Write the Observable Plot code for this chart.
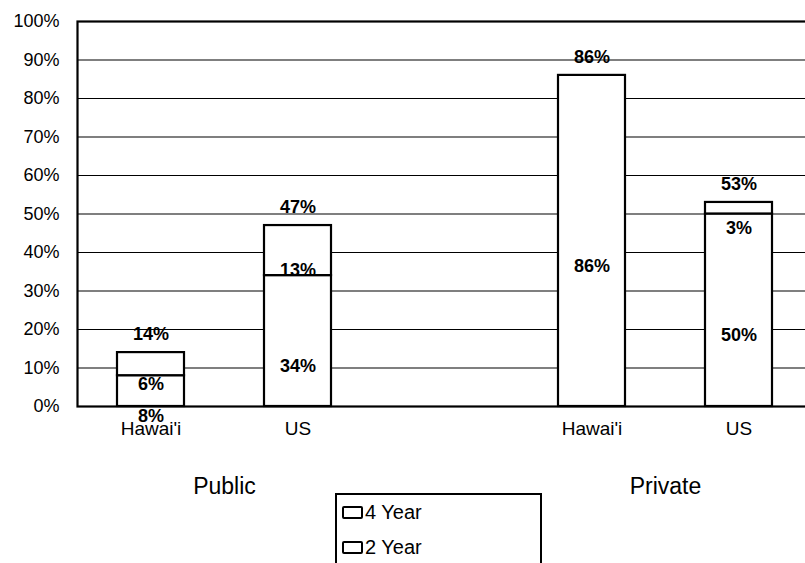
<!DOCTYPE html>
<html><head><meta charset="utf-8">
<script src="https://cdn.jsdelivr.net/npm/d3@7"></script>
<script src="https://cdn.jsdelivr.net/npm/@observablehq/plot@0.6"></script>
<style>
html,body{margin:0;padding:0;background:#fff;overflow:hidden;}
#wrap{position:relative;width:805px;height:563px;overflow:hidden;font-family:"Liberation Sans",Arial,sans-serif;}
#wrap svg{max-width:none !important;width:812px;height:563px;display:block;}
g[aria-label="x-axis tick label"] text{font-size:19px;}
#legend{position:absolute;left:335px;top:493px;width:203px;height:100px;border:2px solid #000;background:#fff;}
.item{display:flex;align-items:center;height:35px;font-size:20px;padding-left:5px;color:#000;}
.sw{width:17px;height:9px;border:2px solid #000;border-radius:2px;margin-right:2px;background:#fff;}
</style></head>
<body><div id="wrap"></div>
<script>
// ---- data ----
const groups = ["Public", "Public", "Private", "Private"];
const schools = ["Hawai'i", "US", "Hawai'i", "US"];
const seriesNames = ["4 Year", "2 Year"];
const fourYear = [8, 34, 86, 50];
const twoYear = [6, 13, 0, 3];
const yTicks = [0, 10, 20, 30, 40, 50, 60, 70, 80, 90, 100];

// ---- build table ----
const catKey = i => groups[i] + "|" + schools[i];
const domain = [catKey(0), catKey(1), "gap", catKey(2), catKey(3)];
const seriesValues = [fourYear, twoYear];
const rows = [];
const totals = [];
schools.forEach((s, i) => {
  let acc = 0;
  seriesValues.forEach((vals, k) => {
    const v = vals[i];
    rows.push({cat: catKey(i), series: seriesNames[k], k, value: v, y1: acc, y2: acc + v, mid: acc + v / 2});
    acc += v;
  });
  totals.push({cat: catKey(i), total: acc});
});
const segs = rows.filter(d => d.value > 0);
const groupLabels = [...new Set(groups)].map(g => ({group: g, first: catKey(groups.indexOf(g))}));

const W = 812, H = 563, ML = 77, MT = 21, MB = 157;
const step = (W - ML) / domain.length;

const chart = Plot.plot({
  width: W, height: H,
  marginLeft: ML, marginRight: 0, marginTop: MT, marginBottom: MB,
  style: {fontFamily: "'Liberation Sans', Arial, sans-serif", fontSize: "18px", color: "#000", background: "#fff"},
  x: {domain, padding: 0, label: null, tickSize: 0, tickPadding: 15,
      tickFormat: d => d === "gap" ? "" : d.split("|")[1]},
  y: {domain: [0, 100], ticks: yTicks, tickFormat: d => d + "%", label: null, tickSize: 0, tickPadding: 18},
  marks: [
    Plot.ruleY(yTicks.filter(t => t > 0 && t < 100), {stroke: "#000", strokeWidth: 1.2}),
    Plot.barY(segs, {x: "cat", y1: "y1", y2: "y2", fill: "#fff", stroke: "#000", strokeWidth: 2.2, insetLeft: 40, insetRight: 40}),
    Plot.frame({stroke: "#000", strokeWidth: 2.2}),
    Plot.text(segs, {x: "cat", y: "mid", text: d => d.value + "%", fontWeight: "bold", fontSize: 18,
      filter: d => d.k === 0, dy: 25}),
    Plot.text(segs, {x: "cat", y: "mid", text: d => d.value + "%", fontWeight: "bold", fontSize: 18,
      filter: d => d.k === 1, dy: 20}),
    Plot.text(totals, {x: "cat", y: "total", text: d => d.total + "%", fontWeight: "bold", fontSize: 18, dy: -18}),
    Plot.text(groupLabels, {x: "first", text: "group", dx: step / 2, frameAnchor: "bottom", dy: 87, fontSize: 23})
  ]
});
const wrap = document.getElementById("wrap");
wrap.appendChild(chart);

const legend = document.createElement("div");
legend.id = "legend";
seriesNames.forEach(n => {
  const it = document.createElement("div");
  it.className = "item";
  const sw = document.createElement("span");
  sw.className = "sw";
  it.appendChild(sw);
  it.appendChild(document.createTextNode(n));
  legend.appendChild(it);
});
wrap.appendChild(legend);
</script>
</body></html>
